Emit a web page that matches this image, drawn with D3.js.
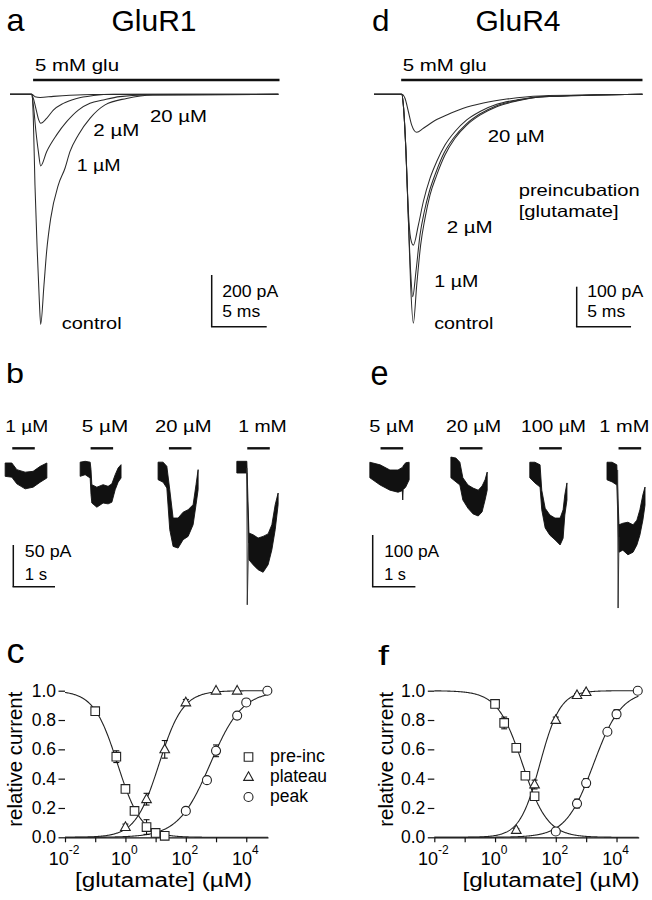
<!DOCTYPE html>
<html>
<head>
<meta charset="utf-8">
<script src="https://cdn.jsdelivr.net/npm/d3@7/dist/d3.min.js"></script>
<style>
html,body{margin:0;padding:0;background:#fff;}
svg text{font-family:"Liberation Sans",Arial,Helvetica,sans-serif;fill:#000;}
</style>
</head>
<body>
<svg id="fig" width="652" height="900" xmlns="http://www.w3.org/2000/svg"></svg>
<script>
// ======================= DATA =======================
// Panel a: GluR1, 5 mM glu responses after preincubation. time (ms), current (pA)
const aLabels = ["control", "1 µM", "2 µM", "20 µM"];
const aTimes = [
  [0, 1.97, 2.12, 2.27, 2.48, 2.67, 2.79, 3.09, 3.33, 3.70, 4.39, 5.00, 5.45, 6.21, 7.27, 8.64, 10.6, 13.0, 24.4],
  [0, 1.97, 2.12, 2.36, 2.58, 2.79, 3.33, 4.24, 5.15, 6.21, 7.27, 8.48, 9.99, 12.4, 24.4],
  [0, 1.97, 2.12, 2.42, 2.61, 2.79, 3.33, 3.94, 4.85, 6.06, 7.58, 9.39, 24.4],
  [0, 1.97, 2.27, 2.73, 3.94, 5.45, 7.58, 24.4]
];
const aCurrents = [
  [0, 0, -93, -351, -609, -802, -890, -737, -608, -480, -351, -286, -222, -157, -93, -41, -16, -3, 0],
  [0, 0, -41, -145, -222, -277, -222, -157, -106, -61, -35, -22, -9, -3, 0],
  [0, 0, -16, -67, -99, -112, -93, -61, -35, -16, -5, 0, 0],
  [0, 0, -9, -12, -8, -4, -1, 0]
];
const aGlu = [2.1, 24.5];           // ms, 5 mM glu application
const aScaleBar = [200, 5];         // pA, ms

// Panel d: GluR4
const dLabels = ["control", "1 µM", "2 µM", "20 µM"];
const dTimes = [
  [0, 2.55, 2.70, 2.94, 3.16, 3.37, 3.62, 3.93, 4.29, 4.69, 5.15, 5.77, 6.53, 7.45, 8.53, 9.75, 11.29, 13.13, 15.27, 24.7],
  [0, 2.55, 2.70, 2.94, 3.16, 3.37, 3.56, 3.86, 4.23, 4.63, 5.09, 5.70, 6.44, 7.36, 8.46, 9.69, 11.22, 13.07, 15.27, 24.7],
  [0, 2.55, 2.70, 2.94, 3.16, 3.37, 3.62, 4.08, 4.54, 5.15, 5.77, 6.53, 7.45, 8.53, 9.75, 11.29, 13.13, 15.27, 24.7],
  [0, 2.55, 2.85, 3.16, 3.47, 3.93, 4.54, 5.46, 6.69, 8.22, 10.06, 12.2, 15.27, 24.7]
];
const dCurrents = [
  [0, 0, -27, -143, -310, -477, -572, -477, -377, -310, -252, -202, -152, -110, -77, -52, -31, -17, -7, 0],
  [0, 0, -27, -143, -310, -443, -506, -443, -352, -293, -243, -195, -147, -108, -75, -50, -29, -16, -7, 0],
  [0, 0, -27, -143, -293, -360, -377, -327, -268, -210, -168, -127, -93, -64, -43, -25, -14, -6, 0],
  [0, 0, -10, -43, -77, -95, -85, -68, -52, -35, -22, -12, -4, 0]
];
const dGlu = [2.5, 24.7];
const dScaleBar = [100, 5];

// Panel b: GluR1 responses to low [glu]; time (s), noisy band upper/lower envelope (pA)
const bLabels = ["1 µM", "5 µM", "20 µM", "1 mM"];
const bTimes = [
  [0.10, 0.26, 0.38, 0.58, 0.77, 0.94, 1.10],
  [0.02, 0.14, 0.26, 0.28, 0.30, 0.42, 0.57, 0.69, 0.78, 0.86, 0.93, 1.00],
  [0.01, 0.13, 0.22, 0.29, 0.37, 0.49, 0.61, 0.73, 0.85, 0.92, 0.97],
  [0.02, 0.26, 0.31, 0.41, 0.53, 0.65, 0.77, 0.86, 0.94, 1.01]
];
const bUpper = [
  [6, 6, -2, -5, -4, 2, 6],
  [7, 8, 7, -2, -20, -23, -20, -22, -19, -8, 0, 4],
  [7, 7, 2, -26, -60, -60, -53, -50, -44, -20, -2],
  [8, 8, -78, -80, -84, -82, -79, -68, -44, -30]
];
const bLower = [
  [-10, -11, -19, -25, -23, -17, -12],
  [-10, -8, -12, -32, -42, -47, -42, -43, -41, -26, -17, -12],
  [-14, -17, -24, -74, -94, -96, -86, -82, -68, -44, -26],
  [-6, -6, -110, -116, -122, -125, -116, -98, -74, -44]
];
const bSpikeTime = [0.26, 0.27, 0.30];   // 1 mM trace, fast peak
const bSpikeCurr = [0, -164, -90];
const bApply = [0.27, 0.81];             // s
const bScaleBar = [50, 1];               // pA, s

// Panel e: GluR4
const eLabels = ["5 µM", "20 µM", "100 µM", "1 mM"];
const eTimes = [
  [0.02, 0.26, 0.49, 0.68, 0.78, 0.79, 0.80, 0.86, 0.94],
  [0.06, 0.18, 0.27, 0.34, 0.46, 0.58, 0.70, 0.79, 0.86, 0.91],
  [0.05, 0.17, 0.29, 0.33, 0.41, 0.52, 0.64, 0.76, 0.83, 0.87, 0.92],
  [0.00, 0.12, 0.23, 0.28, 0.37, 0.49, 0.61, 0.70, 0.77, 0.84, 0.89]
];
const eUpper = [
  [15, 10, 0, 0, 5, 5, 8, 14, 15],
  [25, 23, 15, -15, -29, -35, -39, -31, -19, -4],
  [15, 15, 10, -39, -74, -87, -93, -93, -77, -48, -25],
  [15, 15, 10, -106, -103, -101, -106, -97, -77, -48, -33]
];
const eLower = [
  [-15, -29, -39, -43, -40, -58, -38, -33, -19],
  [-15, -23, -29, -58, -74, -85, -89, -81, -58, -39],
  [-15, -25, -33, -77, -112, -126, -135, -145, -132, -87, -58],
  [-19, -23, -29, -159, -155, -164, -159, -145, -126, -97, -68]
];
const eSpikeTime = [0.25, 0.26, 0.28];
const eSpikeCurr = [0, -267, -130];
const eApply = [0.27, 0.80];
const eScaleBar = [100, 1];

// Panels c, f: concentration-response; conc (µM), relative current, SEM
const seriesNames = ["pre-inc", "plateau", "peak"];
const xTickValues = [1e-2, 1e-1, 1, 10, 100, 1e3, 1e4];
const yTickValues = [0, 0.2, 0.4, 0.6, 0.8, 1.0];

const cConc = [
  [0.1, 0.5, 1, 2, 5, 10, 20],
  [1, 5, 20, 100, 1000, 5000],
  [100, 500, 1000, 5000, 10000, 50000]
];
const cRel = [
  [0.86, 0.55, 0.33, 0.18, 0.07, 0.03, 0.01],
  [0.07, 0.26, 0.60, 0.92, 1.0, 1.0],
  [0.18, 0.39, 0.59, 0.83, 0.92, 1.0]
];
const cErr = [
  [0.02, 0.04, 0.02, 0.02, 0.05, 0.01, 0.01],
  [0.02, 0.04, 0.06, 0.02, 0, 0],
  [0.02, 0.01, 0.04, 0.01, 0.02, 0]
];
const cFitEC50 = [0.55, 13, 640];     // µM
const cFitHill = [-1.1, 1.1, 0.82];   // negative = inhibition

const fConc = [
  [1, 2, 5, 10, 20],
  [5, 20, 100, 500, 1000],
  [100, 500, 1000, 5000, 10000, 50000]
];
const fRel = [
  [0.91, 0.78, 0.61, 0.42, 0.28],
  [0.05, 0.36, 0.80, 0.97, 0.99],
  [0.04, 0.23, 0.37, 0.72, 0.84, 1.0]
];
const fErr = [
  [0.02, 0.04, 0.01, 0.01, 0.02],
  [0.01, 0.03, 0.02, 0.01, 0.01],
  [0.01, 0.03, 0.03, 0.02, 0.03, 0]
];
const fFitEC50 = [8, 30, 1750];
const fFitHill = [-1.05, 1.3, 0.95];

// ======================= DRAWING =======================
const svg = d3.select("#fig");
svg.append("rect").attr("width", 652).attr("height", 900).attr("fill", "#fff");
const INK = "#111";

function txt(parent, s, x, y, size, o = {}) {
  const t = parent.append("text").attr("x", x).attr("y", y).attr("font-size", size).text(s);
  if (o.anchor) t.attr("text-anchor", o.anchor);
  if (o.w) t.attr("textLength", o.w).attr("lengthAdjust", "spacingAndGlyphs");
  if (o.rot) t.attr("transform", `rotate(${o.rot},${x},${y})`);
  return t;
}
function hline(g, x1, x2, y, w) {
  g.append("line").attr("x1", x1).attr("x2", x2).attr("y1", y).attr("y2", y)
    .attr("stroke", INK).attr("stroke-width", w);
}
function vline(g, x, y1, y2, w) {
  g.append("line").attr("x1", x).attr("x2", x).attr("y1", y1).attr("y2", y2)
    .attr("stroke", INK).attr("stroke-width", w);
}

// ---------- panel a & d: fast application traces ----------
function fastPanel(cfg) {
  const g = svg.append("g");
  const x = d3.scaleLinear().domain(cfg.tDomain).range(cfg.xRange);
  const y = d3.scaleLinear().domain([-1000, 0]).range([cfg.y0 + 1000 * cfg.pxPerPA, cfg.y0]);
  const line = d3.line().x(d => x(d[0])).y(d => y(d[1])).curve(d3.curveMonotoneX);
  cfg.times.forEach((ts, i) => {
    const pts = ts.map((t, j) => [t, cfg.currents[i][j]]);
    g.append("path").attr("d", line(pts)).attr("fill", "none")
      .attr("stroke", "#2a2a2a").attr("stroke-width", 1.05);
  });
  // glu bar
  hline(g, x(cfg.glu[0]), x(cfg.glu[1]), 80, 2.4);
  txt(g, "5 mM glu", cfg.gluTextX, 71, 16.5, { w: 84 });
  // scale bar
  const sbx = cfg.sb[0], sby = cfg.sb[1];
  const hPA = y(-cfg.scaleBar[0]) - y(0);
  const wMS = x(cfg.scaleBar[1]) - x(0);
  vline(g, sbx, sby - hPA, sby, 1.5);
  hline(g, sbx - 0.75, sbx + wMS, sby, 1.5);
  txt(g, cfg.scaleBar[0] + " pA", sbx + 10.5, sby - 29.5, 16.5, { w: 56 });
  txt(g, cfg.scaleBar[1] + " ms", sbx + 10.5, sby - 9.5, 16.5, { w: 38 });
  // trace labels
  cfg.labelPos.forEach((p, i) => txt(g, cfg.labels[i], p[0], p[1], 16.5, { w: p[2] }));
  return g;
}

fastPanel({
  tDomain: [0, 24.4], xRange: [10, 10 + 24.4 * 11], y0: 94.3, pxPerPA: 51.7 / 200,
  times: aTimes, currents: aCurrents, glu: aGlu, gluTextX: 35,
  sb: [211.7, 326.7], scaleBar: aScaleBar, labels: aLabels,
  labelPos: [[61.7, 329, 60], [76.7, 170.5, 44], [93.3, 136, 46], [150, 122.3, 57]]
});
fastPanel({
  tDomain: [0, 24.7], xRange: [374, 374 + 24.7 * 10.87], y0: 94.3, pxPerPA: 40 / 100,
  times: dTimes, currents: dCurrents, glu: dGlu, gluTextX: 402.7,
  sb: [576.7, 326.7], scaleBar: dScaleBar, labels: dLabels,
  labelPos: [[434.3, 329, 59], [434.3, 287.3, 44], [446.7, 232.7, 46], [487.7, 141.5, 57]]
});
txt(svg, "preincubation", 518.7, 196, 16.5, { w: 121 });
txt(svg, "[glutamate]", 518.7, 216.5, 16.5, { w: 100 });

// ---------- panel b & e: slow application traces ----------
function slowPanel(cfg) {
  const g = svg.append("g");
  const gx = d3.scalePoint().domain(cfg.labels).range(cfg.groupRange);
  const t = d3.scaleLinear().domain([0, 1]).range([0, cfg.pxPerS]);
  const y = d3.scaleLinear().domain([-300, 50]).range([cfg.y0 + 300 * cfg.pxPerPA, cfg.y0 - 50 * cfg.pxPerPA]);
  const area = d3.area().x(d => d.x).y0(d => d.lo).y1(d => d.up);
  cfg.labels.forEach((lab, i) => {
    const x0 = gx(lab);
    const pts = cfg.times[i].map((tt, j) => ({ x: x0 + t(tt), up: y(cfg.upper[i][j]), lo: y(cfg.lower[i][j]) }));
    g.append("path").attr("d", area(pts)).attr("fill", INK).attr("stroke", INK)
      .attr("stroke-width", 0.9).attr("stroke-linejoin", "round");
    hline(g, x0 + t(cfg.apply[0]), x0 + t(cfg.apply[1]), 448.3, 2.4);
    txt(g, lab, x0 + cfg.labelDx[i], cfg.labelY, 16.5, { anchor: "middle", w: cfg.labelW[i] });
  });
  const xs = gx(cfg.labels[3]);
  const sp = cfg.spikeT.map((tt, j) => [xs + t(tt), y(cfg.spikeI[j])]);
  g.append("path").attr("d", d3.line()(sp)).attr("fill", "none").attr("stroke", "#333").attr("stroke-width", 1);
  // scale bar
  const sbx = cfg.sb[0], sby = cfg.sb[1];
  const h = y(-cfg.scaleBar[0]) - y(0);
  const w = t(cfg.scaleBar[1]);
  vline(g, sbx, sby - h, sby, 1.5);
  hline(g, sbx - 0.75, sbx + w, sby, 1.5);
  txt(g, cfg.scaleBar[0] + " pA", sbx + 11.5, 557, 16.5, { w: cfg.sbW[0] });
  txt(g, cfg.scaleBar[1] + " s", sbx + 11.5, 580, 16.5, { w: cfg.sbW[1] });
}
slowPanel({
  labels: bLabels, groupRange: [1, 236], pxPerS: 41.7, y0: 468, pxPerPA: 41.7 / 50,
  times: bTimes, upper: bUpper, lower: bLower, apply: bApply, labelY: 431.7,
  labelW: [43, 46.5, 56.5, 48.5], labelDx: [25.7, 25.7, 25.6, 26.5],
  spikeT: bSpikeTime, spikeI: bSpikeCurr,
  sb: [13.3, 586.7], scaleBar: bScaleBar, sbW: [46.7, 22.3]
});
slowPanel({
  labels: eLabels, groupRange: [369, 607], pxPerS: 42.7, y0: 470, pxPerPA: 51.7 / 100,
  times: eTimes, upper: eUpper, lower: eLower, apply: eApply, labelY: 432.3,
  labelW: [45, 55, 65, 50], labelDx: [22.8, 25.2, 25.8, 17.3],
  spikeT: eSpikeTime, spikeI: eSpikeCurr,
  sb: [372.7, 586.7], scaleBar: eScaleBar, sbW: [55, 21.7]
});

// ---------- panel c & f: concentration-response ----------
function markerPath(kind, cx, cy) {
  if (kind === 0) { const s = 4.3; return `M${cx - s},${cy - s}H${cx + s}V${cy + s}H${cx - s}Z`; }
  if (kind === 1) { return `M${cx},${cy - 5.2}L${cx + 4.8},${cy + 3.4}L${cx - 4.8},${cy + 3.4}Z`; }
  const r = 4.5;
  return `M${cx - r},${cy}A${r},${r} 0 1,0 ${cx + r},${cy}A${r},${r} 0 1,0 ${cx - r},${cy}Z`;
}
function dosePanel(cfg) {
  const g = svg.append("g");
  const x = d3.scaleLog().domain([1e-2, Math.pow(10, cfg.maxExp)]).range(cfg.xRange);
  const y = d3.scaleLinear().domain([0, 1]).range([837.3, 690.7]);
  // x axis
  const ax = g.append("g").attr("transform", `translate(0,${y(0)})`)
    .call(d3.axisBottom(x).tickValues(xTickValues).tickSize(5).tickSizeOuter(0).tickFormat(""));
  ax.select(".domain").attr("stroke", INK).attr("stroke-width", 1.3);
  ax.selectAll(".tick line").attr("stroke", INK).attr("stroke-width", 1.2);
  xTickValues.forEach(v => {
    const e = Math.round(Math.log10(v));
    if (e % 2 !== 0) return;
    const t = g.append("text").attr("x", x(v) - 1).attr("y", y(0) + 27.7)
      .attr("text-anchor", "middle").attr("font-size", 18);
    t.append("tspan").text("10");
    t.append("tspan").attr("dy", -11).attr("font-size", 12).text(String(e));
  });
  // y axis
  const ay = g.append("g").attr("transform", `translate(${cfg.xRange[0]},0)`)
    .call(d3.axisLeft(y).tickValues(yTickValues).tickSize(6.5).tickPadding(2.5).tickFormat(d3.format(".1f")));
  ay.select(".domain").remove();
  ay.selectAll(".tick line").attr("stroke", INK).attr("stroke-width", 1.2);
  ay.selectAll(".tick text").attr("font-size", 17.5).attr("fill", "#000");
  // axis titles
  txt(g, "relative current", cfg.yTitleX, 759.2, 19.5, { anchor: "middle", w: 135, rot: -90 });
  txt(g, "[glutamate] (µM)", cfg.xTitleX, 887, 19.5, { anchor: "middle", w: 177 });
  // fits
  const grid = d3.range(-2, cfg.maxExp + 0.0001, 0.02).map(v => Math.pow(10, v));
  const line = d3.line().x(d => x(d[0])).y(d => y(d[1]));
  cfg.ec50.forEach((ec, i) => {
    const n = cfg.hill[i];
    const pts = grid.map(c => [c, 1 / (1 + Math.pow(ec / c, n))]);
    g.append("path").attr("d", line(pts)).attr("fill", "none").attr("stroke", "#222").attr("stroke-width", 1.1);
  });
  // error bars + markers
  cfg.conc.forEach((cs, i) => {
    cs.forEach((c, j) => {
      const cx = x(c), v = cfg.rel[i][j], e = cfg.err[i][j];
      if (e > 0) {
        vline(g, cx, y(v + e), y(v - e), 1.1);
        hline(g, cx - 3, cx + 3, y(v + e), 1.1);
        hline(g, cx - 3, cx + 3, y(v - e), 1.1);
      }
    });
    cs.forEach((c, j) => {
      g.append("path").attr("d", markerPath(i, x(c), y(cfg.rel[i][j])))
        .attr("fill", "#fff").attr("stroke", "#222").attr("stroke-width", 1.1);
    });
  });
  return g;
}
const gc = dosePanel({
  maxExp: 4.72, xRange: [65, 268], conc: cConc, rel: cRel, err: cErr,
  ec50: cFitEC50, hill: cFitHill, yTitleX: 21.7, xTitleX: 163.5
});
dosePanel({
  maxExp: 4.73, xRange: [434.3, 638.7], conc: fConc, rel: fRel, err: fErr,
  ec50: fFitEC50, hill: fFitHill, yTitleX: 392.7, xTitleX: 551
});
// legend (panel c)
const legW = [55, 57, 38];
seriesNames.forEach((s, i) => {
  const cy = 757 + i * 20;
  gc.append("path").attr("d", markerPath(i, 248.5, cy)).attr("fill", "#fff")
    .attr("stroke", "#222").attr("stroke-width", 1.1);
  txt(gc, s, 270, cy + 4.8, 17.5, { w: legW[i] });
});

// ---------- panel letters & titles ----------
[["a", 6.5, 30.5, 32, 18], ["d", 372, 31, 30, 17.5], ["b", 6, 383, 28, 18],
 ["e", 370.5, 385, 35, 18], ["c", 6.5, 663, 35, 18], ["f", 378, 665, 28, 11]]
  .forEach(p => txt(svg, p[0], p[1], p[2], p[3], { w: p[4] }));
txt(svg, "GluR1", 154, 31, 30, { anchor: "middle" });
txt(svg, "GluR4", 518, 31, 30, { anchor: "middle" });
</script>
</body>
</html>
